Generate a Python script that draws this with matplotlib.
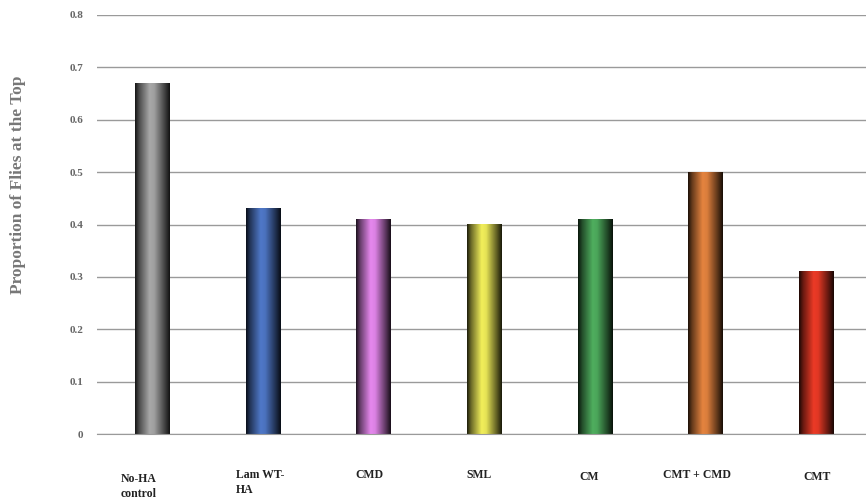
import matplotlib
matplotlib.use('Agg')
import matplotlib.pyplot as plt
import matplotlib.transforms as mtrans
import numpy as np
from matplotlib.colors import to_rgb

labels = ['No-HA\ncontrol', 'Lam WT-\nHA', 'CMD', 'SML', 'CM', 'CMT + CMD', 'CMT']
values = [0.67, 0.43, 0.41, 0.40, 0.41, 0.50, 0.31]
colors = ['#a8a8a8', '#4f78c8', '#e688ee', '#f2ef5a', '#4fae5e', '#e5843f', '#ec3a26']

plt.rcParams['font.family'] = ['Liberation Serif', 'DejaVu Serif']
plt.rcParams['font.weight'] = 'bold'

fig = plt.figure(figsize=(8.66, 5.04), dpi=100)
ax = fig.add_axes([97/866, 1-434/504, 1-97/866, 419/504])

x = np.arange(len(values))
width = 0.31
bars = ax.bar(x, values, width, color='none', edgecolor='none', zorder=2)

# horizontal gradient: dark edges, bright just left of centre
t = np.linspace(0, 1, 200)
shade = np.interp(t, [0, 0.12, 0.42, 0.55, 0.85, 1], [0.12, 0.45, 1.0, 0.95, 0.4, 0.1])
for b, c in zip(bars, colors):
    rgb = np.array(to_rgb(c))
    img = (shade[:, None] * rgb[None, :])[None, :, :]
    ax.imshow(img, extent=[b.get_x(), b.get_x() + b.get_width(), 0, b.get_height()],
              aspect='auto', zorder=2, interpolation='bilinear')

ax.set_xlim(-0.5, 6.45)
ax.set_ylim(0, 0.8)
ax.set_yticks(np.arange(0, 0.81, 0.1))
ax.set_yticklabels(['0'] + ['%.1f' % v for v in np.arange(0.1, 0.81, 0.1)])
ax.yaxis.grid(True, color='#9a9a9a', linewidth=1)
ax.set_axisbelow(True)
for s in ['top', 'right', 'left']:
    ax.spines[s].set_visible(False)
ax.spines['bottom'].set_color('#9a9a9a')
ax.tick_params(axis='y', length=0, pad=10, labelsize=8, labelcolor='#666666')
ax.set_xticks(x)
ax.set_xticklabels(labels, fontsize=8.5, color='#222222', ha='left',
                   multialignment='left', linespacing=1.4)
ax.tick_params(axis='x', length=0, pad=25)
# nudge labels: left offset (px) and down offset (px)
offsets = [(-32, -4), (-27, 0), (-18, 0), (-18, 0), (-16, -2), (-43, 0), (-13, -2)]
for lbl, (dx, dy) in zip(ax.get_xticklabels(), offsets):
    lbl.set_transform(lbl.get_transform() + mtrans.ScaledTranslation(dx/100, dy/100, fig.dpi_scale_trans))

fig.text(18/866, 1-185/504, 'Proportion of Flies at the Top', rotation=90,
         ha='center', va='center', fontsize=12.5, color='#777777', fontweight='bold')

fig.savefig('out.png', dpi=100)
